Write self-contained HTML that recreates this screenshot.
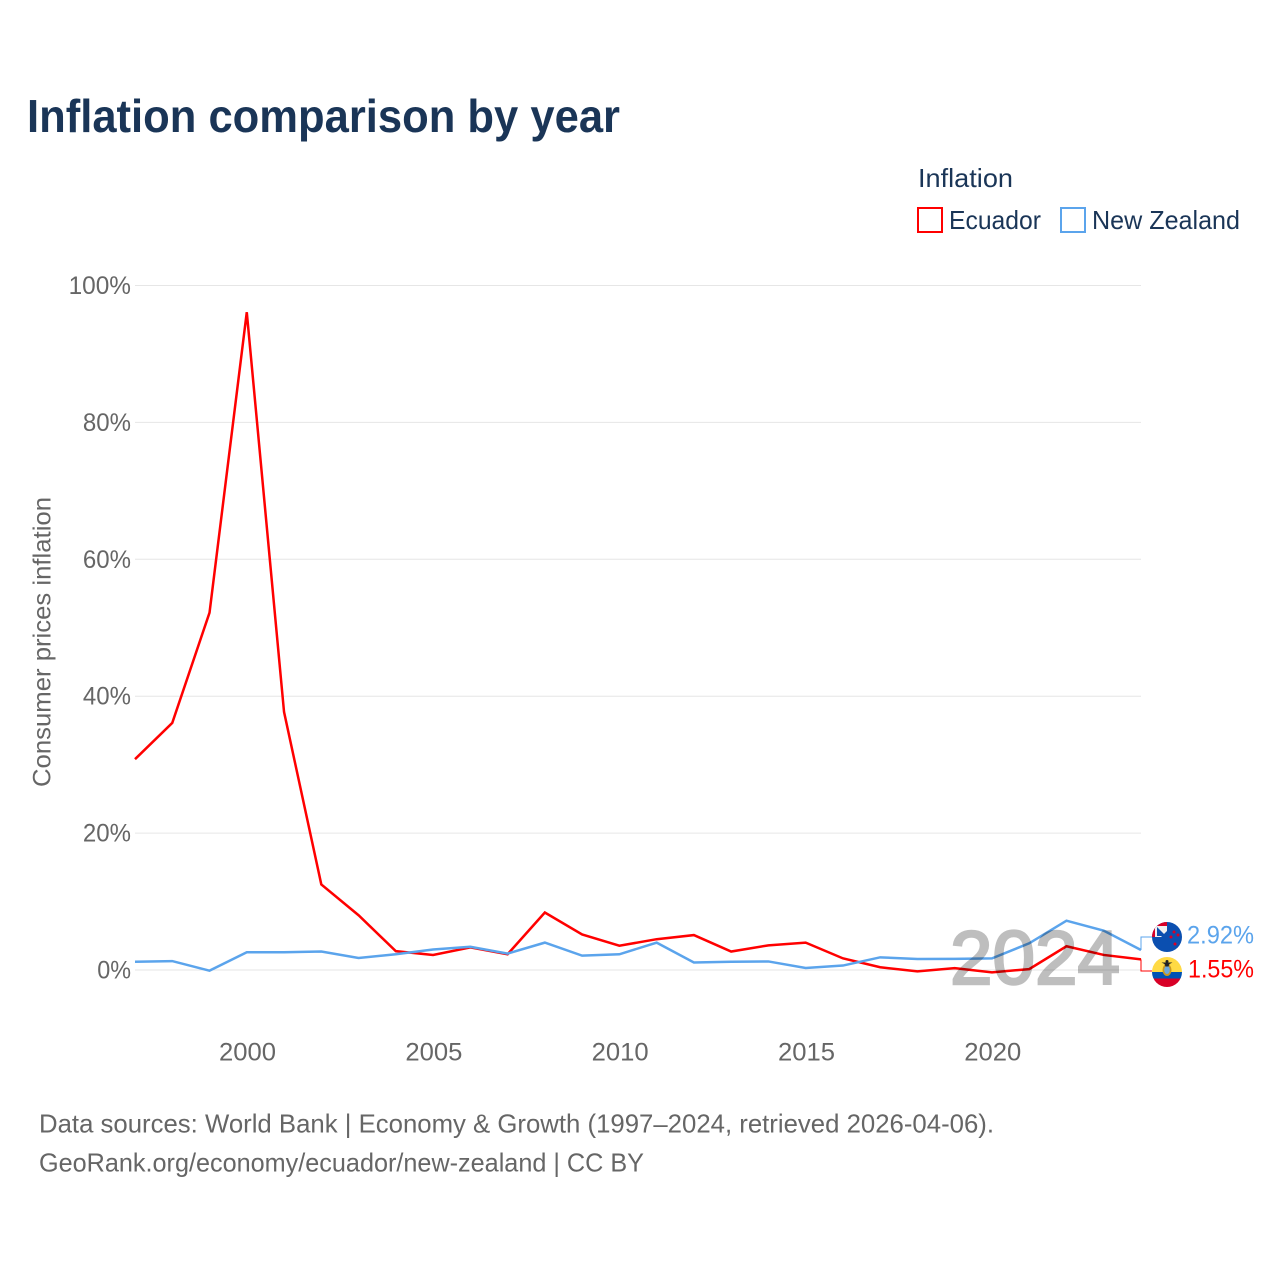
<!DOCTYPE html>
<html lang="en">
<head>
<meta charset="utf-8">
<title>Inflation comparison by year</title>
<style>
html,body{margin:0;padding:0;background:#fff;}
svg{display:block;font-family:"Liberation Sans",sans-serif;}
</style>
</head>
<body>
<svg id="chart" xmlns="http://www.w3.org/2000/svg" width="1280" height="1280" viewBox="0 0 1280 1280">
  <defs>
    <clipPath id="clip-nz"><circle cx="1167" cy="937" r="15"/></clipPath>
    <clipPath id="clip-ec"><circle cx="1167" cy="972" r="15"/></clipPath>
  </defs>
  <rect x="0" y="0" width="1280" height="1280" fill="#fff"/>
  <text x="27" y="132" font-size="46" font-weight="700" fill="#1a3557" textLength="593" lengthAdjust="spacingAndGlyphs">Inflation comparison by year</text>

  <g>
    <text x="918" y="187" font-size="26" fill="#1a3557" textLength="95" lengthAdjust="spacingAndGlyphs">Inflation</text>
    <g>
      <rect x="918" y="208" width="24" height="24" fill="#fff" stroke="#ff0000" stroke-width="2"/>
      <text x="949" y="229" font-size="26" fill="#1a3557" textLength="92" lengthAdjust="spacingAndGlyphs">Ecuador</text>
    </g>
    <g>
      <rect x="1061" y="208" width="24" height="24" fill="#fff" stroke="#5ba4ec" stroke-width="2"/>
      <text x="1092" y="229" font-size="26" fill="#1a3557" textLength="148" lengthAdjust="spacingAndGlyphs">New Zealand</text>
    </g>
  </g>

  <text transform="translate(50.5,787) rotate(-90)" x="0" y="0" font-size="25" fill="#666" textLength="290" lengthAdjust="spacingAndGlyphs">Consumer prices inflation</text>

  <g id="grid"></g>
  <g id="y-ticks"></g>
  <g id="x-ticks"></g>
  <g id="series"></g>

  <text x="950" y="984" font-size="76" fill="#000" stroke="#000" stroke-width="2.5" opacity="0.25" textLength="170" lengthAdjust="spacingAndGlyphs">2024</text>

  <g clip-path="url(#clip-nz)">
    <rect x="1152" y="922" width="30" height="30" fill="#0b4fb0"/>
    <rect x="1152" y="922" width="15" height="15" fill="#d80027"/>
    <rect x="1155" y="926" width="12" height="11" fill="#f0f0f0"/>
    <path d="M1157 927l9 9h-9z" fill="#0b4fb0"/>
    <path d="M1167 937v-6l-6 6z" fill="#0b4fb0"/>
    <circle cx="1174" cy="932" r="1.5" fill="#d80027"/>
    <circle cx="1178" cy="935" r="1.5" fill="#d80027"/>
    <circle cx="1171" cy="937" r="1.5" fill="#d80027"/>
    <circle cx="1175" cy="944" r="1.5" fill="#d80027"/>
  </g>
  <g clip-path="url(#clip-ec)">
    <rect x="1152" y="957" width="30" height="15" fill="#ffda44"/>
    <rect x="1152" y="972" width="30" height="6.5" fill="#0052b4"/>
    <rect x="1152" y="978.5" width="30" height="9" fill="#d80027"/>
    <ellipse cx="1167" cy="970" rx="4.5" ry="6" fill="#c9971e"/>
    <ellipse cx="1167" cy="970" rx="2.8" ry="4" fill="#6fa8dc"/>
    <path d="M1161.5 962.5h11l-3 1.5 -1 2.5h-3l-1-2.5z" fill="#222"/>
    <circle cx="1167" cy="961.5" r="1.5" fill="#222"/>
  </g>

  <text x="1187" y="943.5" font-size="25" fill="#5ba4ec" textLength="67" lengthAdjust="spacingAndGlyphs">2.92%</text>
  <text x="1188" y="977.5" font-size="25" fill="#ff0000" textLength="66" lengthAdjust="spacingAndGlyphs">1.55%</text>

  <text x="39" y="1132.5" font-size="26" fill="#666" textLength="955" lengthAdjust="spacingAndGlyphs">Data sources: World Bank | Economy &amp; Growth (1997–2024, retrieved 2026-04-06).</text>
  <text x="39" y="1171.5" font-size="26" fill="#666" textLength="605" lengthAdjust="spacingAndGlyphs">GeoRank.org/economy/ecuador/new-zealand | CC BY</text>
</svg>
<script>
const years = [1997,1998,1999,2000,2001,2002,2003,2004,2005,2006,2007,2008,2009,2010,2011,2012,2013,2014,2015,2016,2017,2018,2019,2020,2021,2022,2023,2024];
const ecuadorValues = [30.8,36.1,52.2,96.1,37.7,12.5,8.0,2.75,2.2,3.3,2.3,8.4,5.2,3.55,4.5,5.1,2.7,3.6,4.0,1.7,0.4,-0.2,0.27,-0.34,0.13,3.47,2.2,1.55];
const newZealandValues = [1.2,1.3,-0.1,2.6,2.6,2.7,1.75,2.3,3.0,3.4,2.4,4.0,2.1,2.3,4.0,1.1,1.2,1.25,0.3,0.65,1.85,1.6,1.62,1.7,3.9,7.2,5.75,2.92];
const yTickValues = [0,20,40,60,80,100];
const xTickValues = [2000,2005,2010,2015,2020];

const NS = 'http://www.w3.org/2000/svg';
const xMin = 135, xMax = 1141, yZero = 970, yHundred = 285.5;
function xScale(year) {
  return xMin + (year - years[0]) * (xMax - xMin) / (years[years.length - 1] - years[0]);
}
function yScale(value) {
  return yZero + value * (yHundred - yZero) / 100;
}
function make(tag, attrs, parent) {
  const el = document.createElementNS(NS, tag);
  Object.keys(attrs).forEach(function (k) { el.setAttribute(k, attrs[k]); });
  parent.appendChild(el);
  return el;
}
const grid = document.getElementById('grid');
const yTicks = document.getElementById('y-ticks');
const xTicks = document.getElementById('x-ticks');
const series = document.getElementById('series');

yTickValues.forEach(function (v) {
  const line = make('line', {x1: xMin, x2: xMax, y1: yScale(v), y2: yScale(v), stroke: '#e6e6e6', 'stroke-width': 1}, grid);
  
  
  const w = String(v).length * 14.3 + 19.5;
  const t = make('text', {x: 131 - w, y: yScale(v) + 8.5, 'font-size': 25, fill: '#666', textLength: w, lengthAdjust: 'spacingAndGlyphs'}, yTicks);
  
  
  t.textContent = v + '%';
});
xTickValues.forEach(function (v) {
  const t = make('text', {x: xScale(v) - 27.7, y: 1060.5, 'font-size': 25, fill: '#666', textLength: 57, lengthAdjust: 'spacingAndGlyphs'}, xTicks);
  
  
  t.textContent = v;
});
function drawSeries(values, color, name) {
  const pts = values.map(function (v, i) { return xScale(years[i]).toFixed(2) + ',' + yScale(v).toFixed(2); }).join(' ');
  const line = make('polyline', {points: pts, fill: 'none', stroke: color, 'stroke-width': 2.5, 'stroke-linejoin': 'miter'}, series);
  
  
}
function drawConnector(values, color, flagY, name) {
  const endX = xScale(years[years.length - 1]);
  const endY = yScale(values[values.length - 1]);
  const path = make('polyline', {points: endX + ',' + endY + ' ' + endX + ',' + flagY + ' 1152,' + flagY, fill: 'none', stroke: color, 'stroke-width': 1}, series);
  
  
}
drawSeries(ecuadorValues, '#ff0000', 'line-ecuador');
drawSeries(newZealandValues, '#5ba4ec', 'line-new-zealand');
drawConnector(ecuadorValues, '#ff0000', 971, 'connector-ecuador');
drawConnector(newZealandValues, '#5ba4ec', 937, 'connector-new-zealand');
</script>
</body>
</html>
